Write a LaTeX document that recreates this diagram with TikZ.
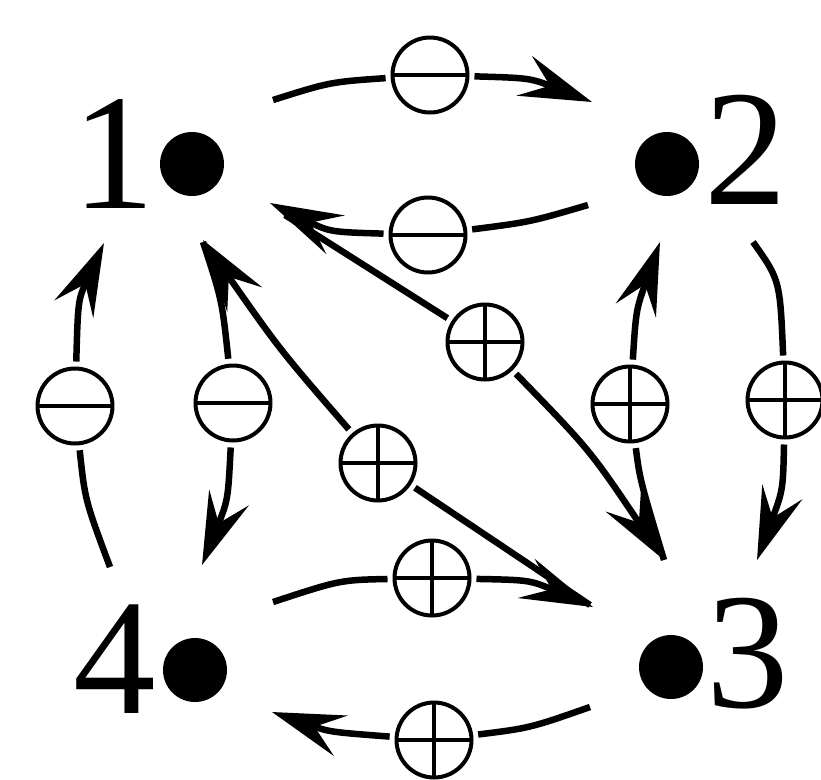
\documentclass[tikz,border=0pt]{standalone}
\usepackage{fontspec}
\setmainfont{Liberation Serif}
\usetikzlibrary{arrows.meta}
\begin{document}
\begin{tikzpicture}[x=0.02cm,y=-0.02cm,
  vdot/.style={circle,fill=black,inner sep=0pt,minimum size=1.28cm},
  lab/.style={inner sep=0pt,anchor=base,font=\fontsize{94}{94}\selectfont},
  sgn/.style={circle,draw,fill=white,line width=0.08cm,minimum size=1.5cm,inner sep=0pt},
  minus/.style={sgn,path picture={\draw[line width=0.08cm] (path picture bounding box.west)--(path picture bounding box.east);}},
  plus/.style={sgn,path picture={\draw[line width=0.08cm] (path picture bounding box.west)--(path picture bounding box.east) (path picture bounding box.north)--(path picture bounding box.south);}},
  tosign/.style={line width=0.13cm,shorten >=0.1cm},
  fromsign/.style={line width=0.13cm,shorten <=0.1cm,-{Stealth[length=1.45cm,width=0.85cm,inset=0.55cm]}}
]
\useasboundingbox (0,0) rectangle (821,779);

% vertices
\node[vdot] (n1) at (192,164) {};
\node[vdot] (n2) at (667,164) {};
\node[vdot] (n3) at (671,667) {};
\node[vdot] (n4) at (195,670) {};
\node[lab] (l1) at (114,208) {1};
\node[lab] (l2) at (746,204) {2};
\node[lab] (l3) at (748,707) {3};
\node[lab] (l4) at (115,713) {4};

% sign nodes
\node[minus] (sA) at (430,75) {};
\node[minus] (sB) at (428,235) {};
\node[plus]  (sC) at (485,342) {};
\node[plus]  (sD) at (378,463) {};
\node[plus]  (sE) at (630,404) {};
\node[plus]  (sF) at (785,400) {};
\node[minus] (sG) at (75,406) {};
\node[minus] (sH) at (233,403) {};
\node[plus]  (sI) at (432,578) {};
\node[plus]  (sJ) at (434,740) {};

% connector ends
\coordinate (a0) at (273,100); \coordinate (a1) at (592,102);
\coordinate (b0) at (588,205); \coordinate (b1) at (270,203);
\coordinate (c0) at (285,215); \coordinate (c1) at (664,560);
\coordinate (d0) at (590,605); \coordinate (d1) at (203,240);
\coordinate (e0) at (664,560); \coordinate (e1) at (660,242);
\coordinate (f0) at (753,242); \coordinate (f1) at (757,560);
\coordinate (g0) at (110,567); \coordinate (g1) at (104,243);
\coordinate (h0) at (203,242); \coordinate (h1) at (202,565);
\coordinate (i0) at (273,602); \coordinate (i1) at (593,607);
\coordinate (j0) at (590,707); \coordinate (j1) at (272,712);

% 1 -> 2 (-)
\draw[tosign] (a0) .. controls (330,82) .. (sA);
\draw[fromsign] (sA) .. controls (530,78) .. (a1);
% 2 -> 1 (-)
\draw[tosign] (b0) .. controls (530,222) .. (sB);
\draw[fromsign] (sB) .. controls (330,232) .. (b1);
% 1 -> 3 (+)
\draw[tosign] (c0) -- (sC);
\draw[fromsign] (sC) .. controls (590,450) .. (c1);
% 3 -> 1 (+)
\draw[tosign] (d0) -- (sD);
\draw[fromsign] (sD) .. controls (280,350) .. (d1);
% 3 -> 2 (+)
\draw[tosign] (e0) .. controls (640,480) .. (sE);
\draw[fromsign] (sE) .. controls (636,310) .. (e1);
% 2 -> 3 (+)
\draw[tosign] (f0) .. controls (780,280) .. (sF);
\draw[fromsign] (sF) .. controls (783,490) .. (f1);
% 4 -> 1 (-)
\draw[tosign] (g0) .. controls (85,500) .. (sG);
\draw[fromsign] (sG) .. controls (78,300) .. (g1);
% 1 -> 4 (-)
\draw[tosign] (h0) .. controls (222,300) .. (sH);
\draw[fromsign] (sH) .. controls (228,500) .. (h1);
% 4 -> 3 (+)
\draw[tosign] (i0) .. controls (340,580) .. (sI);
\draw[fromsign] (sI) .. controls (530,580) .. (i1);
% 3 -> 4 (+)
\draw[tosign] (j0) .. controls (530,728) .. (sJ);
\draw[fromsign] (sJ) .. controls (330,732) .. (j1);
\end{tikzpicture}
\end{document}
